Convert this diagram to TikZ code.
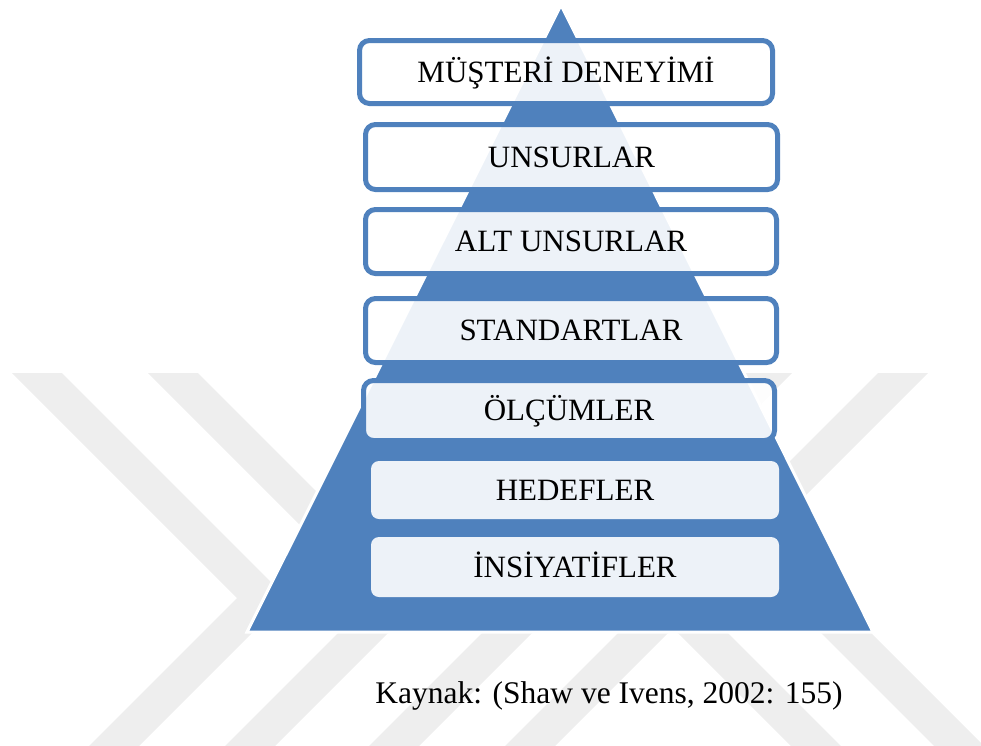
\documentclass[tikz,border=0pt]{standalone}
\usepackage{fontspec}
\setmainfont{Liberation Serif}
\definecolor{pyrblue}{RGB}{79,129,189}
\definecolor{wmgray}{RGB}{238,238,238}
\tikzset{
  wm/.style={fill=wmgray},
  pyr/.style={fill=pyrblue, draw=white, line width=3pt, line join=miter},
  tierbase/.style={shape=rectangle, inner sep=0pt, outer sep=0pt,
    fill=white, fill opacity=0.9, text opacity=1, text=black,
    font=\fontsize{31}{36}\selectfont, text height=20.5pt, text depth=0pt},
  tier/.style={tierbase, draw=pyrblue, line width=5pt, rounded corners=10pt},
  tierplain/.style={tierbase, rounded corners=8pt},
  caption/.style={inner sep=0pt, font=\fontsize{31.5}{38}\selectfont,
    text height=20.9pt, text depth=0pt}
}
\begin{document}
\begin{tikzpicture}[x=1pt,y=-1pt]
\useasboundingbox (0,0) rectangle (981,745);

% faint background chevrons and stripes
\begin{scope}
  \clip (0,373) rectangle (981,745);
  % two chevrons pointing right
  \foreach \t in {237,373}{
    \fill[wm] (\t-260,338) -- (\t,598) -- (\t-260,858) -- (\t-210,858)
              -- (\t+50,598) -- (\t-210,338) -- cycle;
  }
  % stripes rising to the right
  \foreach \b in {370,506}{
    \fill[wm] (\b-120,865) -- (\b-70,865) -- (\b+460,335) -- (\b+410,335) -- cycle;
  }
  % stripes falling to the right
  \foreach \b in {790,933}{
    \fill[wm] (\b+120,865) -- (\b+170,865) -- (\b-360,335) -- (\b-410,335) -- cycle;
  }
\end{scope}

% pyramid
\coordinate (apex) at (561,5);
\coordinate (bl) at (247,632);
\coordinate (br) at (873,632);
\filldraw[pyr] (apex) -- (br) -- (bl) -- cycle;

% tiers
\node[tier, minimum width=413pt, minimum height=63pt] (t1) at (566,72) {MÜŞTERİ DENEYİMİ};
\node[tier, minimum width=412pt, minimum height=65pt] (t2) at (571.5,157) {UNSURLAR};
\node[tier, minimum width=411pt, minimum height=64pt] (t3) at (571,241.5) {ALT UNSURLAR};
\node[tier, minimum width=411pt, minimum height=64pt] (t4) at (571,330.5) {STANDARTLAR};
\node[tier, minimum width=411pt, minimum height=60pt] (t5) at (569,410.5) {ÖLÇÜMLER};
\node[tierplain, minimum width=408pt, minimum height=58pt] (t6) at (575,490) {HEDEFLER};
\node[tierplain, minimum width=408pt, minimum height=60pt] (t7) at (575,567) {İNSİYATİFLER};

% source line
\node[caption] (src) at (609,693) {Kaynak: (Shaw ve Ivens, 2002: 155)};
\end{tikzpicture}
\end{document}
